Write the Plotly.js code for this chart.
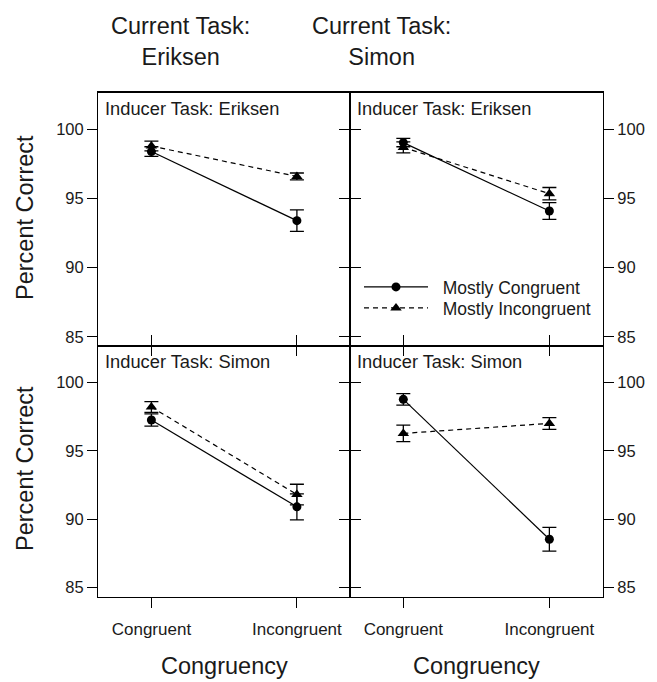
<!DOCTYPE html>
<html>
<head>
<meta charset="utf-8">
<script src="https://cdn.plot.ly/plotly-3.0.1.min.js"></script>
<style>html,body{margin:0;padding:0;background:#fff}#chart{width:657px;height:682px}</style>
</head>
<body>
<div id="chart"></div>
<script>
// ---- data ----
const categories = ['Congruent', 'Incongruent'];
const yTicks = [85, 90, 95, 100];
const seriesNames = ['Mostly Congruent', 'Mostly Incongruent'];

// Current task Eriksen, inducer task Eriksen
const eriksenEriksenMC = [98.4, 93.4];
const eriksenEriksenMCse = [0.35, 0.78];
const eriksenEriksenMI = [98.8, 96.6];
const eriksenEriksenMIse = [0.35, 0.25];
// Current task Simon, inducer task Eriksen
const simonEriksenMC = [99.05, 94.1];
const simonEriksenMCse = [0.3, 0.6];
const simonEriksenMI = [98.7, 95.35];
const simonEriksenMIse = [0.4, 0.45];
// Current task Eriksen, inducer task Simon
const eriksenSimonMC = [97.25, 90.9];
const eriksenSimonMCse = [0.45, 0.95];
const eriksenSimonMI = [98.2, 91.8];
const eriksenSimonMIse = [0.4, 0.75];
// Current task Simon, inducer task Simon
const simonSimonMC = [98.76, 88.53];
const simonSimonMCse = [0.42, 0.87];
const simonSimonMI = [96.27, 97.0];
const simonSimonMIse = [0.6, 0.43];

const columnTitles = ['Current Task:<br>Eriksen', 'Current Task:<br>Simon'];
const stripLabels = ['Inducer Task: Eriksen', 'Inducer Task: Eriksen', 'Inducer Task: Simon', 'Inducer Task: Simon'];
const yTitle = 'Percent Correct';
const xTitle = 'Congruency';

// ---- build ----
const FONT = '"Liberation Sans", Arial, Helvetica, sans-serif';
const INK = '#1a1a1a';
const W = 657, H = 682;
const px = v => v / W, py = v => 1 - v / H;
const GAP = '\u00a0\u00a0';

const panels = [
  {xa: 'x', ya: 'y', mc: eriksenEriksenMC, mcse: eriksenEriksenMCse, mi: eriksenEriksenMI, mise: eriksenEriksenMIse},
  {xa: 'x2', ya: 'y2', mc: simonEriksenMC, mcse: simonEriksenMCse, mi: simonEriksenMI, mise: simonEriksenMIse},
  {xa: 'x3', ya: 'y3', mc: eriksenSimonMC, mcse: eriksenSimonMCse, mi: eriksenSimonMI, mise: eriksenSimonMIse},
  {xa: 'x4', ya: 'y4', mc: simonSimonMC, mcse: simonSimonMCse, mi: simonSimonMI, mise: simonSimonMIse}
];

const traces = [];
panels.forEach((p, i) => {
  const legendOn = (i === 1);
  traces.push({
    type: 'scatter', mode: 'lines+markers', x: categories, y: p.mc,
    xaxis: p.xa, yaxis: p.ya, name: GAP + seriesNames[0], showlegend: legendOn, legend: 'legend',
    line: {color: '#000', width: 1.2, dash: 'solid'},
    marker: {symbol: 'circle', size: 9, color: '#000'},
    error_y: {type: 'data', array: p.mcse, visible: true, color: '#000', thickness: 1.3, width: 7}
  });
  traces.push({
    type: 'scatter', mode: 'lines+markers', x: categories, y: p.mi,
    xaxis: p.xa, yaxis: p.ya, name: GAP + seriesNames[1], showlegend: legendOn, legend: 'legend2',
    line: {color: '#000', width: 1.2, dash: '5px,4px'},
    marker: {symbol: 'triangle-up', size: 10, color: '#000'},
    error_y: {type: 'data', array: p.mise, visible: true, color: '#000', thickness: 1.3, width: 7}
  });
});

const domL = [px(98.3), px(350)];
const domR = [px(350), px(602.7)];
const domT = [py(346), py(92.7)];
const domB = [py(596.7), py(346)];
const yRange = [84.33, 102.66];
const xRange = [-0.365, 1.365];

function xAxis(dom, anchor, bottomRow) {
  return {
    domain: dom, anchor: anchor, type: 'category', categoryorder: 'array', categoryarray: categories,
    range: xRange, showgrid: false, zeroline: false,
    showline: true, linecolor: '#000', linewidth: 1.3,
    mirror: bottomRow ? 'ticks' : true,
    ticks: 'outside', ticklen: bottomRow ? 10 : 9, tickwidth: 1.2, tickcolor: '#000',
    ticklabelstandoff: 7,
    showticklabels: bottomRow, tickfont: {family: FONT, size: 17, color: INK}
  };
}
function yAxis(dom, anchor, side) {
  return {
    domain: dom, anchor: anchor, side: side, range: yRange, tickvals: yTicks,
    ticktext: yTicks.map(String),
    showgrid: false, zeroline: false, showline: true, linecolor: '#000', linewidth: 1.3,
    mirror: 'ticks', ticks: 'outside', ticklen: 10, tickwidth: 1.2, tickcolor: '#000',
    tickfont: {family: FONT, size: 16.5, color: INK}
  };
}

const annotations = [];
// column titles
[[180, columnTitles[0]], [381, columnTitles[1]]].forEach(([x, t]) => {
  annotations.push({xref: 'paper', yref: 'paper', x: px(x), y: py(42), xanchor: 'center', yanchor: 'middle',
    text: t, showarrow: false, font: {family: FONT, size: 23.5, color: INK}});
});
// y titles
[218, 469].forEach(y => {
  annotations.push({xref: 'paper', yref: 'paper', x: px(25), y: py(y), xanchor: 'center', yanchor: 'middle',
    text: yTitle, textangle: -90, showarrow: false, font: {family: FONT, size: 23.5, color: INK}});
});
// x titles
[224, 476].forEach(x => {
  annotations.push({xref: 'paper', yref: 'paper', x: px(x), y: py(666), xanchor: 'center', yanchor: 'middle',
    text: xTitle, showarrow: false, font: {family: FONT, size: 23.5, color: INK}});
});
// strip labels
panels.forEach((p, i) => {
  annotations.push({xref: p.xa + ' domain', yref: p.ya + ' domain', x: 0, y: 1, xanchor: 'left', yanchor: 'top',
    xshift: 5, yshift: -3, text: stripLabels[i], showarrow: false,
    font: {family: FONT, size: 18.3, color: INK}});
});

const legendBase = {
  xanchor: 'left', yanchor: 'middle',
  bgcolor: 'rgba(0,0,0,0)', borderwidth: 0, itemwidth: 64,
  tracegroupgap: 0, font: {family: FONT, size: 17.5, color: INK},
  itemclick: false, itemdoubleclick: false
};

const layout = {
  width: W, height: H, margin: {l: 0, r: 0, t: 0, b: 0},
  paper_bgcolor: '#fff', plot_bgcolor: '#fff',
  font: {family: FONT, color: INK},
  xaxis: xAxis(domL, 'y', false),
  xaxis2: xAxis(domR, 'y2', false),
  xaxis3: xAxis(domL, 'y3', true),
  xaxis4: xAxis(domR, 'y4', true),
  yaxis: yAxis(domT, 'x', 'left'),
  yaxis2: yAxis(domT, 'x2', 'right'),
  yaxis3: yAxis(domB, 'x3', 'left'),
  yaxis4: yAxis(domB, 'x4', 'right'),
  showlegend: true,
  legend: Object.assign({x: px(359), y: py(287)}, legendBase),
  legend2: Object.assign({x: px(359), y: py(308)}, legendBase),
  annotations: annotations
};

Plotly.newPlot('chart', traces, layout, {displayModeBar: false, staticPlot: true});
</script>
</body>
</html>
